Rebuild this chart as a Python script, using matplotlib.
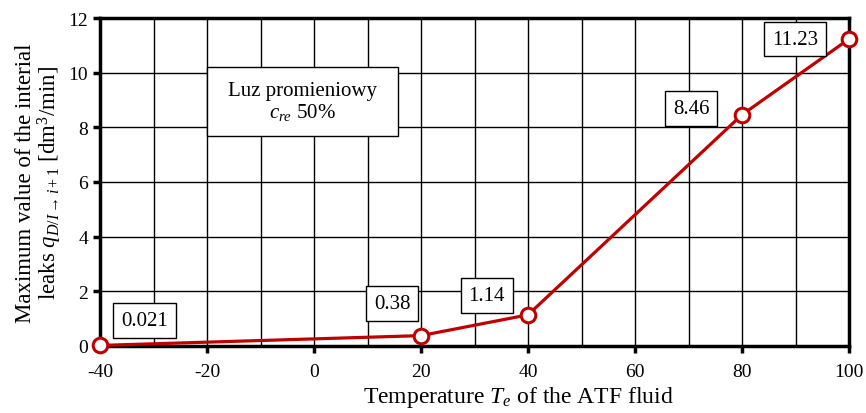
import numpy as np
import matplotlib
matplotlib.use("Agg")
import matplotlib.pyplot as plt
from matplotlib.ticker import MultipleLocator
from matplotlib.patches import Rectangle

plt.rcParams['font.family'] = ['Liberation Serif', 'DejaVu Serif']
plt.rcParams['mathtext.fontset'] = 'custom'
plt.rcParams['mathtext.rm'] = 'Liberation Serif'
plt.rcParams['mathtext.it'] = 'Liberation Serif:italic'
plt.rcParams['axes.unicode_minus'] = False

# data
temp = [-40, 20, 40, 80, 100]
leaks = [0.021, 0.38, 1.14, 8.46, 11.23]
labels = ["0.021", "0.38", "1.14", "8.46", "11.23"]
label_pos = [(-31.7, 0.93), (14.6, 1.54), (32.3, 1.85), (70.5, 8.7), (89.9, 11.23)]

fig = plt.figure(figsize=(8.66, 4.14), dpi=100)
ax = fig.add_axes([100/866, 1-347/414, 749/866, 328/414])

ax.plot(temp, leaks, color='#C00000', lw=2.3, marker='o', ms=10.5,
        mfc='white', mec='#C00000', mew=2.2, clip_on=False, zorder=5)

for (x, y), s in zip(label_pos, labels):
    ax.text(x, y, s, fontsize=15, ha='center', va='center', zorder=6,
            bbox=dict(boxstyle='square,pad=0.38', fc='white', ec='black', lw=1))

# legend-like note box
ax.add_patch(Rectangle((-20, 7.68), 35.7, 2.53, fc='white', ec='black', lw=1, zorder=6))
ax.text(-2.15, 8.95, "Luz promieniowy\n$c_{re}$ 50%", fontsize=15, ha='center',
        va='center', linespacing=1.1, zorder=7)

ax.set_xlim(-40, 100)
ax.set_ylim(0, 12)
ax.xaxis.set_major_locator(MultipleLocator(20))
ax.xaxis.set_minor_locator(MultipleLocator(10))
ax.yaxis.set_major_locator(MultipleLocator(2))
ax.grid(which='both', axis='x', color='black', lw=1)
ax.grid(which='major', axis='y', color='black', lw=1)
ax.tick_params(which='major', direction='out', length=5, width=2.5, labelsize=14)
ax.tick_params(axis='x', pad=7)
ax.tick_params(which='minor', length=0)
for sp in ax.spines.values():
    sp.set_linewidth(2.5)

ax.set_xlabel("Temperature $T_e$ of the ATF fluid", fontsize=17, labelpad=3, x=0.558)
ax.set_ylabel("Maximum value of the interial\nleaks $q_{D/I\\rightarrow i+1}$ [dm$^3$/min]",
              fontsize=16.5, labelpad=3, linespacing=1.0)

fig.savefig("out.png", dpi=100)
